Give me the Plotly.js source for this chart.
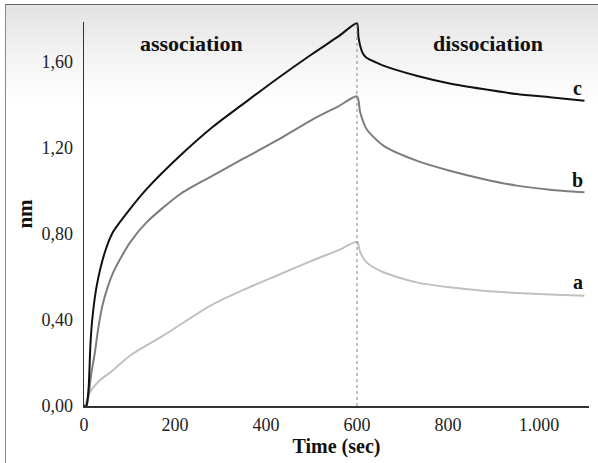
<!DOCTYPE html>
<html>
<head>
<meta charset="utf-8">
<script src="https://cdn.plot.ly/plotly-3.0.1.min.js"></script>
<style>
  html, body { margin: 0; padding: 0; background: #fff; }
  #wrap { position: relative; width: 598px; height: 463px; overflow: hidden; }
  #frame { position: absolute; left: 5px; top: 4px; width: 600px; height: 470px;
           border-top: 1px solid #666; border-left: 1px solid #888;
           background: linear-gradient(to bottom, #e2e2e2 0px, #f3f3f3 50px, #ffffff 100px, #ffffff 100%); }
  #chart { position: absolute; left: 0; top: 0; width: 598px; height: 463px; }
</style>
</head>
<body>
<div id="wrap"><div id="frame"></div><div id="chart"></div></div>
<script>
// Series a (light grey)
const timeA = [0, 5, 12, 20, 35, 57, 101, 174, 277, 350, 423, 500, 560, 600,
               607, 621, 658, 731, 804, 877, 951, 1024, 1100];
const valA  = [0, 0.02, 0.06, 0.085, 0.12, 0.155, 0.234, 0.327, 0.466, 0.54, 0.606, 0.675, 0.725, 0.763,
               0.715, 0.668, 0.622, 0.575, 0.552, 0.536, 0.526, 0.519, 0.513];
// Series b (mid grey)
const timeB = [0, 5, 10, 16, 24, 32, 42, 64, 101, 138, 211, 277, 350, 423, 500, 560, 600,
               607, 621, 658, 731, 804, 877, 951, 1024, 1100];
const valB  = [0, 0, 0.05, 0.15, 0.25, 0.37, 0.48, 0.62, 0.76, 0.855, 0.985, 1.065, 1.15, 1.234, 1.33, 1.395, 1.44,
               1.366, 1.288, 1.211, 1.141, 1.094, 1.056, 1.025, 1.006, 0.994];
// Series c (black)
const timeC = [0, 5, 10, 14, 18, 28, 46, 64, 101, 138, 211, 284, 350, 423, 500, 560, 600,
               603, 607, 613, 621, 640, 658, 731, 804, 877, 951, 1024, 1100];
const valC  = [0, 0, 0.08, 0.28, 0.40, 0.56, 0.716, 0.81, 0.916, 1.01, 1.164, 1.30, 1.405, 1.52, 1.635, 1.72, 1.78,
               1.72, 1.676, 1.64, 1.62, 1.60, 1.583, 1.536, 1.50, 1.474, 1.451, 1.436, 1.42];

const xTicks = [0, 200, 400, 600, 800, 1000];
const yTicks = [0, 0.4, 0.8, 1.2, 1.6];
const seriesLabels = ['a', 'b', 'c'];
const phaseLabels = ['association', 'dissociation'];
const switchTime = 600;
const switchTop = 1.78;

const serif = '"Liberation Serif", "Times New Roman", serif';

function tr(x, y, color, w) {
  return { x: x, y: y, type: 'scatter', mode: 'lines',
           line: { color: color, width: w, shape: 'spline', smoothing: 0.7 },
           hoverinfo: 'skip', showlegend: false };
}

const data = [
  tr(timeA, valA, '#c0c0c0', 2),
  tr(timeB, valB, '#7d7d7d', 2),
  tr(timeC, valC, '#111111', 2)
];

const lastIdx = arr => arr[arr.length - 1];

const annotations = [
  { x: 1085, y: lastIdx(valA) + 0.062, text: '<b>' + seriesLabels[0] + '</b>' },
  { x: 1085, y: lastIdx(valB) + 0.058, text: '<b>' + seriesLabels[1] + '</b>' },
  { x: 1085, y: lastIdx(valC) + 0.06, text: '<b>' + seriesLabels[2] + '</b>' }
].map(a => Object.assign(a, { xref: 'x', yref: 'y', showarrow: false,
      font: { family: serif, size: 20, color: '#111' } }));

annotations.push(
  { x: 236, y: 1.685, xref: 'x', yref: 'y', text: '<b>' + phaseLabels[0] + '</b>', showarrow: false,
    font: { family: serif, size: 22, color: '#111' } },
  { x: 889, y: 1.685, xref: 'x', yref: 'y', text: '<b>' + phaseLabels[1] + '</b>', showarrow: false,
    font: { family: serif, size: 22, color: '#111' } }
);

const layout = {
  width: 598, height: 463,
  margin: { l: 84, r: 9, t: 22, b: 57 },
  paper_bgcolor: 'rgba(0,0,0,0)',
  plot_bgcolor: 'rgba(0,0,0,0)',
  separators: ',.',
  font: { family: serif, size: 18, color: '#222' },
  xaxis: {
    range: [0, 1110], tickvals: xTicks, tickformat: ',d',
    showgrid: false, zeroline: false, showline: true, linecolor: '#333', linewidth: 2,
    ticks: '', ticklabelstandoff: 1,
    tickfont: { family: serif, size: 18, color: '#222' },
    title: { text: '<b>Time (sec)</b>', font: { family: serif, size: 20, color: '#111' }, standoff: 4 }
  },
  yaxis: {
    range: [0, 1.786], tickvals: yTicks, tickformat: '.2f',
    showgrid: false, zeroline: false, showline: true, linecolor: '#333', linewidth: 1.5,
    ticks: '', ticklabelstandoff: 6,
    tickfont: { family: serif, size: 18, color: '#222' },
    title: { text: '<b>nm</b>', font: { family: serif, size: 21, color: '#111' }, standoff: 3 }
  },
  shapes: [
    { type: 'line', xref: 'x', yref: 'y', x0: switchTime, x1: switchTime, y0: 0, y1: switchTop,
      line: { color: '#888', width: 1, dash: 'dot' } }
  ],
  annotations: annotations
};

Plotly.newPlot('chart', data, layout, { displayModeBar: false, staticPlot: true });
</script>
</body>
</html>
